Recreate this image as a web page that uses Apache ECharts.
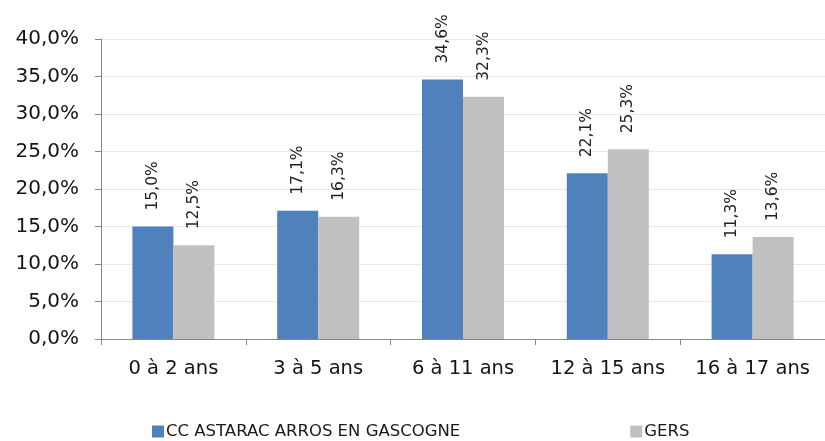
<!DOCTYPE html>
<html><head><meta charset="utf-8">
<script src="https://cdn.jsdelivr.net/npm/echarts@6/dist/echarts.min.js"></script>
<style>html,body{margin:0;padding:0;background:#fff}#c{width:825px;height:441px}</style>
</head><body><div id="c"></div>
<script>
const categories = ['0 à 2 ans','3 à 5 ans','6 à 11 ans','12 à 15 ans','16 à 17 ans'];
const seriesNames = ['CC ASTARAC ARROS EN GASCOGNE','GERS'];
const ccValues = [15.0, 17.1, 34.6, 22.1, 11.3];
const gersValues = [12.5, 16.3, 32.3, 25.3, 13.6];
const yTicks = [0,5,10,15,20,25,30,35,40];

const fmt = v => v.toFixed(1).replace('.', ',') + '%';
const font = 'DejaVu Sans';
const chart = echarts.init(document.getElementById('c'));
const labelCfg = {
  show: true, position: 'top', rotate: 90, align: 'left', verticalAlign: 'middle',
  distance: 16, fontFamily: font, fontSize: 15.5, color: '#222',
  formatter: p => fmt(p.value)
};
chart.setOption({
  animation: false,
  textStyle: {fontFamily: font},
  grid: {left: 101, right: 0, top: 39, bottom: 102, containLabel: false},
  legend: {
    top: 418, left: 147, itemWidth: 12, itemHeight: 12, itemGap: 170,
    icon: 'rect', textStyle: {fontFamily: font, fontSize: 16.5, color: '#1a1a1a', padding: [0,0,0,-3]},
    data: seriesNames
  },
  xAxis: {
    type: 'category', data: categories,
    axisLine: {lineStyle: {color: '#888'}},
    axisTick: {show: true, length: 6, interval: 0, lineStyle: {color: '#888'}},
    axisLabel: {fontFamily: font, fontSize: 19.5, color: '#151515', margin: 20, interval: 0}
  },
  yAxis: {
    type: 'value', min: 0, max: 40, interval: 5,
    axisLine: {show: true, lineStyle: {color: '#888'}},
    axisTick: {show: true, length: 6, inside: false, lineStyle: {color: '#888'}},
    splitLine: {lineStyle: {color: '#e8e8e8'}},
    axisLabel: {fontFamily: font, fontSize: 20, color: '#151515', margin: 22, formatter: v => fmt(v)}
  },
  series: [
    {name: seriesNames[0], type: 'bar', data: ccValues, barWidth: 41, barGap: '0%',
     itemStyle: {color: '#4F81BD'}, label: labelCfg},
    {name: seriesNames[1], type: 'bar', data: gersValues, barWidth: 41, barGap: '0%',
     itemStyle: {color: '#C0C0C0'}, label: labelCfg}
  ]
});
</script></body></html>
